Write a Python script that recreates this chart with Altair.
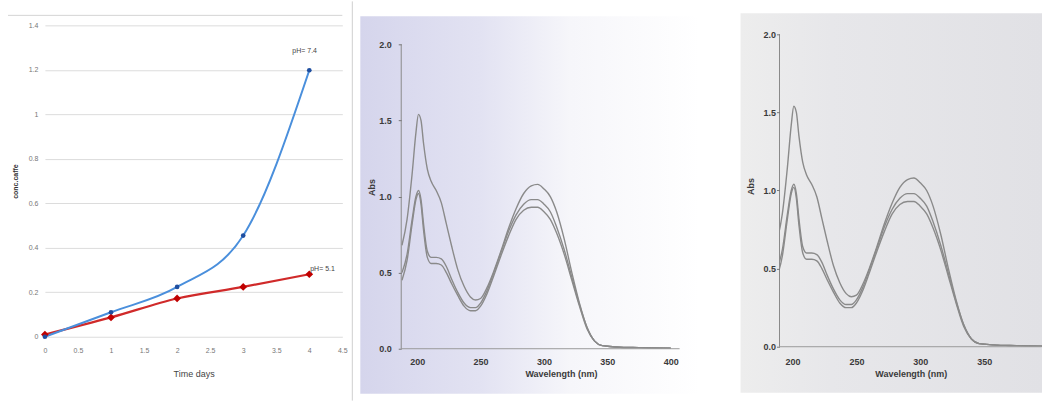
import altair as alt
import pandas as pd

# ---------------- Panel 1 data (growth vs time) ----------------
days = [0, 1, 2, 3, 4]
ph74_vals = [0.0, 0.11, 0.224, 0.455, 1.198]
ph51_vals = [0.01, 0.087, 0.172, 0.224, 0.281]
series_labels = ["pH= 7.4", "pH= 5.1"]
label_x = [3.93, 4.2]
label_y = [1.285, 0.305]
p1_x_ticks = [0, 0.5, 1, 1.5, 2, 2.5, 3, 3.5, 4, 4.5]
p1_y_ticks = [0, 0.2, 0.4, 0.6, 0.8, 1.0, 1.2, 1.4]

# ---------------- Spectra data (same spectra in panels 2 and 3) ----------------
wavelength = [188, 192, 196, 199, 201, 203, 205, 208, 211, 215, 219, 223, 227, 232,
              237, 242, 246, 250, 255, 260, 266, 272, 278, 284, 290, 295, 300, 305,
              310, 316, 322, 328, 334, 340, 346, 352, 360, 370, 385, 400]
abs_a = [0.68, 0.85, 1.15, 1.42, 1.54, 1.50, 1.35, 1.18, 1.10, 1.04, 0.96, 0.82, 0.68, 0.52,
         0.41, 0.34, 0.32, 0.33, 0.40, 0.50, 0.64, 0.79, 0.92, 1.02, 1.07, 1.08, 1.05, 1.00,
         0.90, 0.72, 0.50, 0.30, 0.14, 0.05, 0.02, 0.015, 0.01, 0.008, 0.005, 0.003]
abs_b = [0.50, 0.62, 0.85, 1.00, 1.04, 0.98, 0.82, 0.64, 0.60, 0.60, 0.59, 0.54, 0.46, 0.37,
         0.30, 0.27, 0.27, 0.30, 0.38, 0.49, 0.63, 0.77, 0.88, 0.95, 0.98, 0.98, 0.95, 0.90,
         0.80, 0.65, 0.47, 0.29, 0.14, 0.05, 0.02, 0.015, 0.01, 0.008, 0.005, 0.003]
abs_c = [0.45, 0.58, 0.82, 0.98, 1.02, 0.95, 0.78, 0.60, 0.56, 0.56, 0.55, 0.50, 0.43, 0.35,
         0.28, 0.25, 0.25, 0.28, 0.36, 0.47, 0.61, 0.74, 0.85, 0.91, 0.93, 0.93, 0.90, 0.85,
         0.76, 0.62, 0.45, 0.28, 0.13, 0.05, 0.02, 0.015, 0.01, 0.008, 0.005, 0.003]
spec_x_ticks = [200, 250, 300, 350, 400]
spec_y_ticks = [0.0, 0.5, 1.0, 1.5, 2.0]

# ---------------- tables ----------------
p1_df = pd.DataFrame({
    "day": days * 2,
    "value": ph74_vals + ph51_vals,
    "series": ["pH= 7.4"] * len(days) + ["pH= 5.1"] * len(days),
})
lab_df = pd.DataFrame({"day": label_x, "value": label_y, "t": series_labels})
spec_df = pd.DataFrame({
    "wl": wavelength * 3,
    "abs": abs_a + abs_b + abs_c,
    "curve": ["a"] * len(wavelength) + ["b"] * len(wavelength) + ["c"] * len(wavelength),
})
one = pd.DataFrame({"k": [0]})

FONT = "Liberation Sans"

# ---------------- Panel 1 ----------------
x1 = alt.X("day:Q", scale=alt.Scale(domain=[0, 4.5], nice=False),
           axis=alt.Axis(values=p1_x_ticks, format="~g", grid=False, domain=False, ticks=False,
                         labelFontSize=7, labelColor="#777", labelPadding=10,
                         labelOverlap=False, labelFlush=False,
                         title="Time days", titleFontSize=9, titleFontWeight="normal",
                         titleColor="#444", titlePadding=16, labelFont=FONT, titleFont=FONT))
y1 = alt.Y("value:Q", scale=alt.Scale(domain=[0, 1.4], nice=False),
           axis=alt.Axis(values=p1_y_ticks, format="~g", grid=True, gridColor="#dcdcdc",
                         domain=False, ticks=False, labelFontSize=7, labelColor="#777",
                         labelPadding=7, labelOverlap=False, labelFlush=False,
                         title="conc.caffe", titleFontSize=7,
                         titleFontWeight="bold", titleColor="#333", titlePadding=10,
                         labelFont=FONT, titleFont=FONT))

base1 = alt.Chart(p1_df)
blue = base1.transform_filter(alt.datum.series == "pH= 7.4")
red = base1.transform_filter(alt.datum.series == "pH= 5.1")
blue_line = blue.mark_line(interpolate="monotone", color="#4a8fdc", strokeWidth=2).encode(x=x1, y=y1)
blue_pts = blue.mark_point(filled=True, color="#1f4fa0", size=22, opacity=1).encode(x=x1, y=y1)
red_line = red.mark_line(interpolate="monotone", color="#d02a2a", strokeWidth=2.2).encode(x=x1, y=y1)
red_pts = red.mark_point(filled=True, shape="diamond", color="#c00000", size=60,
                         opacity=1).encode(x=x1, y=y1)
labels1 = alt.Chart(lab_df).mark_text(fontSize=7, color="#444", font=FONT).encode(
    x=x1, y=y1, text="t:N")
top_border = alt.Chart(one).mark_rule(color="#d4d4d4", strokeWidth=1, clip=False).encode(
    x=alt.value(-37), x2=alt.value(298), y=alt.value(-10))
side_border = alt.Chart(one).mark_rule(color="#cfcfcf", strokeWidth=1, clip=False).encode(
    x=alt.value(308), y=alt.value(-24), y2=alt.value(376))

panel1 = alt.layer(red_line, blue_line, red_pts, blue_pts, labels1, top_border, side_border).properties(
    width=298, height=312)


# ---------------- Spectra panels ----------------
def spectra_panel(width, height, xmin, xmax, ymax, bg_rect, fill, lab_pad_y, title_pad_y,
                  lab_pad_x, title_pad_x, axis_end):
    axis_df = pd.DataFrame({"x0": [xmin], "x1": [axis_end], "y0": [0.0], "y1": [2.0]})
    xs = alt.Scale(domain=[xmin, xmax], nice=False, zero=False)
    ys = alt.Scale(domain=[0, ymax], nice=False)
    x = alt.X("wl:Q", scale=xs,
              axis=alt.Axis(values=spec_x_ticks, format="d", grid=False, domain=False,
                            ticks=False, labelFontSize=9, labelFontWeight="bold",
                            labelColor="#3a3a3a", labelPadding=lab_pad_x, labelFont=FONT,
                            title="Wavelength (nm)", titleFontSize=9, titleFontWeight="bold",
                            titleColor="#3a3a3a", titlePadding=title_pad_x, titleFont=FONT,
                            zindex=2, labelFlush=False))
    y = alt.Y("abs:Q", scale=ys,
              axis=alt.Axis(values=spec_y_ticks, format=".1f", grid=False, domain=False,
                            ticks=True, tickSize=3, tickColor="#777", labelFontSize=9,
                            labelFontWeight="bold", labelColor="#3a3a3a",
                            labelPadding=lab_pad_y, labelFont=FONT, title="Abs",
                            titleFontSize=9, titleFontWeight="bold", titleColor="#3a3a3a",
                            titlePadding=title_pad_y, titleFont=FONT, zindex=2))
    bg = alt.Chart(one).mark_rect(clip=False, fill=fill, stroke="transparent").encode(
        x=alt.value(bg_rect[0]), x2=alt.value(bg_rect[1]),
        y=alt.value(bg_rect[2]), y2=alt.value(bg_rect[3]))
    yaxis_line = alt.Chart(axis_df).mark_rule(color="#8a8a8a", strokeWidth=1).encode(
        x=alt.X("x0:Q", scale=xs), y=alt.Y("y0:Q", scale=ys), y2="y1:Q")
    xaxis_line = alt.Chart(axis_df).mark_rule(color="#9a9a9a", strokeWidth=1).encode(
        x=alt.X("x0:Q", scale=xs), x2="x1:Q", y=alt.Y("y0:Q", scale=ys))
    lines = alt.Chart(spec_df).mark_line(interpolate="monotone", color="#8a8a8a",
                                         strokeWidth=1.4, clip=True).encode(
        x=x, y=y, detail="curve:N")
    return alt.layer(bg, lines, yaxis_line, xaxis_line).properties(width=width, height=height)


grad2 = {"gradient": "linear", "x1": 0, "y1": 0, "x2": 1, "y2": 0,
         "stops": [{"offset": 0, "color": "#d5d5ec"},
                   {"offset": 0.35, "color": "#e2e2f2"},
                   {"offset": 0.62, "color": "#f6f6fa"},
                   {"offset": 1, "color": "#ffffff"}]}
grad3 = {"gradient": "linear", "x1": 0, "y1": 0, "x2": 1, "y2": 0,
         "stops": [{"offset": 0, "color": "#ededed"},
                   {"offset": 0.3, "color": "#e7e7ea"},
                   {"offset": 1, "color": "#e1e1e5"}]}

panel2 = spectra_panel(width=320, height=324, xmin=187.4, xmax=187.4 + 320 / 1.27, ymax=2.125,
                       bg_rect=(-41, 299, -9, 369), fill=grad2, lab_pad_y=7, title_pad_y=2,
                       lab_pad_x=9, title_pad_x=3, axis_end=407)
panel3 = spectra_panel(width=263, height=322, xmin=189.8, xmax=189.8 + 263 / 1.28, ymax=2.0575,
                       bg_rect=(-39, 263, -12, 368), fill=grad3, lab_pad_y=1, title_pad_y=8,
                       lab_pad_x=11, title_pad_x=3, axis_end=395)

chart = alt.hconcat(panel1, panel2, panel3, spacing=59, bounds="flush").properties(
    padding={"left": 7, "top": 0, "right": 0, "bottom": 6},
    background="white",
).configure_view(strokeOpacity=0)

chart.save("out.html", embed_options={"renderer": "svg", "actions": False})
